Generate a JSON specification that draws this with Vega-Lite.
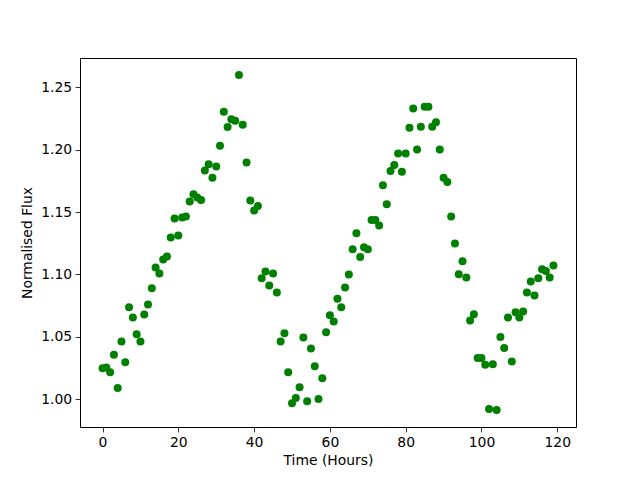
{
  "$schema": "https://vega.github.io/schema/vega-lite/v6.json",
  "width": 496,
  "height": 369,
  "autosize": {"type": "none"},
  "padding": {"left": 80, "top": 58, "right": 64, "bottom": 53},
  "background": "white",
  "config": {
    "view": {"stroke": "black", "strokeWidth": 1},
    "font": "DejaVu Sans",
    "axis": {
      "grid": false,
      "domain": false,
      "tickColor": "black",
      "tickSize": 4.9,
      "tickWidth": 0.8,
      "labelColor": "black",
      "labelFont": "DejaVu Sans",
      "labelFontSize": 13.9,
      "labelPadding": 3.5,
      "titleFont": "DejaVu Sans",
      "titleFontSize": 13.9,
      "titleFontWeight": "normal",
      "titleColor": "black"
    }
  },
  "data": {
    "values": [
      {"t": 0, "f": 1.0248}, {"t": 1, "f": 1.0254}, {"t": 2, "f": 1.0216}, {"t": 3, "f": 1.0355},
      {"t": 4, "f": 1.0088}, {"t": 5, "f": 1.0462}, {"t": 6, "f": 1.0296}, {"t": 7, "f": 1.0737},
      {"t": 8, "f": 1.0655}, {"t": 9, "f": 1.0521}, {"t": 10, "f": 1.0462}, {"t": 11, "f": 1.0679},
      {"t": 12, "f": 1.0759}, {"t": 13, "f": 1.0889}, {"t": 14, "f": 1.1055}, {"t": 15, "f": 1.1007},
      {"t": 16, "f": 1.1119}, {"t": 17, "f": 1.1143}, {"t": 18, "f": 1.1296}, {"t": 19, "f": 1.1448},
      {"t": 20, "f": 1.1312}, {"t": 21, "f": 1.1456}, {"t": 22, "f": 1.1464}, {"t": 23, "f": 1.1584},
      {"t": 24, "f": 1.1643}, {"t": 25, "f": 1.1616}, {"t": 26, "f": 1.1597}, {"t": 27, "f": 1.1833},
      {"t": 28, "f": 1.1883}, {"t": 29, "f": 1.1776}, {"t": 30, "f": 1.1865}, {"t": 31, "f": 1.2033},
      {"t": 32, "f": 1.2305}, {"t": 33, "f": 1.2182}, {"t": 34, "f": 1.2244}, {"t": 35, "f": 1.2233},
      {"t": 36, "f": 1.2600}, {"t": 37, "f": 1.2201}, {"t": 38, "f": 1.1897}, {"t": 39, "f": 1.1593},
      {"t": 40, "f": 1.1512}, {"t": 41, "f": 1.1549}, {"t": 42, "f": 1.0970}, {"t": 43, "f": 1.1023},
      {"t": 44, "f": 1.0911}, {"t": 45, "f": 1.1007}, {"t": 46, "f": 1.0855}, {"t": 47, "f": 1.0462},
      {"t": 48, "f": 1.0529}, {"t": 49, "f": 1.0216}, {"t": 50, "f": 0.9966}, {"t": 51, "f": 1.0008},
      {"t": 52, "f": 1.0094}, {"t": 53, "f": 1.0494}, {"t": 54, "f": 0.9982}, {"t": 55, "f": 1.0406},
      {"t": 56, "f": 1.0264}, {"t": 57, "f": 1.0000}, {"t": 58, "f": 1.0168}, {"t": 59, "f": 1.0537},
      {"t": 60, "f": 1.0673}, {"t": 61, "f": 1.0623}, {"t": 62, "f": 1.0804}, {"t": 63, "f": 1.0737},
      {"t": 64, "f": 1.0895}, {"t": 65, "f": 1.0999}, {"t": 66, "f": 1.1202}, {"t": 67, "f": 1.1330},
      {"t": 68, "f": 1.1140}, {"t": 69, "f": 1.1218}, {"t": 70, "f": 1.1202}, {"t": 71, "f": 1.1437},
      {"t": 72, "f": 1.1437}, {"t": 73, "f": 1.1392}, {"t": 74, "f": 1.1715}, {"t": 75, "f": 1.1563},
      {"t": 76, "f": 1.1830}, {"t": 77, "f": 1.1878}, {"t": 78, "f": 1.1969}, {"t": 79, "f": 1.1824},
      {"t": 80, "f": 1.1969}, {"t": 81, "f": 1.2176}, {"t": 82, "f": 1.2330}, {"t": 83, "f": 1.2003},
      {"t": 84, "f": 1.2185}, {"t": 85, "f": 1.2345}, {"t": 86, "f": 1.2345}, {"t": 87, "f": 1.2185},
      {"t": 88, "f": 1.2220}, {"t": 89, "f": 1.2003}, {"t": 90, "f": 1.1776}, {"t": 91, "f": 1.1741},
      {"t": 92, "f": 1.1464}, {"t": 93, "f": 1.1248}, {"t": 94, "f": 1.1002}, {"t": 95, "f": 1.1106},
      {"t": 96, "f": 1.0975}, {"t": 97, "f": 1.0630}, {"t": 98, "f": 1.0681}, {"t": 99, "f": 1.0329},
      {"t": 100, "f": 1.0329}, {"t": 101, "f": 1.0275}, {"t": 102, "f": 0.9920}, {"t": 103, "f": 1.0280},
      {"t": 104, "f": 0.9912}, {"t": 105, "f": 1.0497}, {"t": 106, "f": 1.0409}, {"t": 107, "f": 1.0655},
      {"t": 108, "f": 1.0302}, {"t": 109, "f": 1.0697}, {"t": 110, "f": 1.0655}, {"t": 111, "f": 1.0703},
      {"t": 112, "f": 1.0855}, {"t": 113, "f": 1.0943}, {"t": 114, "f": 1.0831}, {"t": 115, "f": 1.0970},
      {"t": 116, "f": 1.1042}, {"t": 117, "f": 1.1028}, {"t": 118, "f": 1.0975}, {"t": 119, "f": 1.1071}
    ]
  },
  "mark": {"type": "point", "filled": true, "shape": "circle", "color": "#008000", "opacity": 1, "size": 64},
  "encoding": {
    "x": {
      "field": "t", "type": "quantitative", "title": "Time (Hours)",
      "scale": {"domain": [-5.95, 124.95], "nice": false, "zero": false},
      "axis": {"values": [0, 20, 40, 60, 80, 100, 120], "format": "d", "titlePadding": 4}
    },
    "y": {
      "field": "f", "type": "quantitative", "title": "Normalised Flux",
      "scale": {"domain": [0.9776, 1.2736], "nice": false, "zero": false},
      "axis": {"values": [1.0, 1.05, 1.1, 1.15, 1.2, 1.25], "format": ".2f", "titlePadding": 6}
    }
  }
}
